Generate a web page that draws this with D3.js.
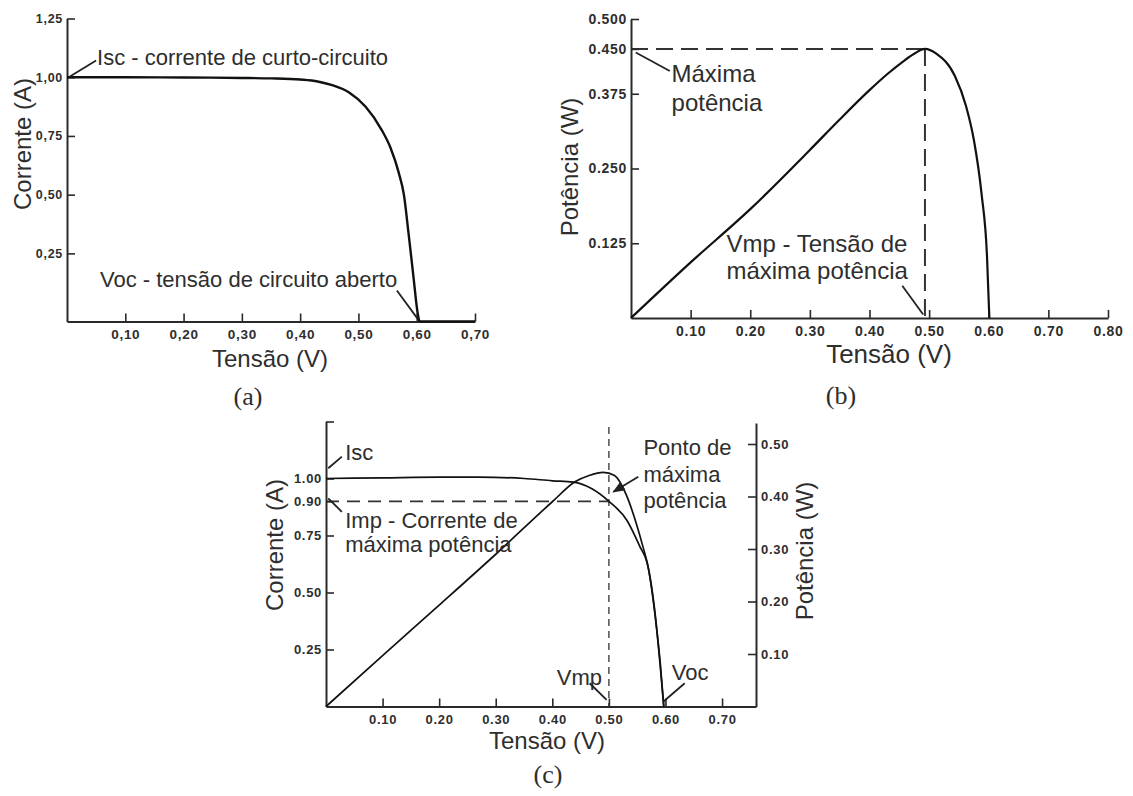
<!DOCTYPE html>
<html>
<head>
<meta charset="utf-8">
<script src="https://cdn.jsdelivr.net/npm/d3@7"></script>
<style>
  body { margin: 0; background: #fff; }
  svg text { fill: #2e2e2e; }
</style>
</head>
<body>
<svg id="chart" width="1133" height="796"></svg>
<script>
// ---- (a) curva I-V ----
const tensaoA   = [0, 0.10, 0.20, 0.30, 0.35, 0.40, 0.43, 0.455, 0.484, 0.512, 0.54, 0.555, 0.569, 0.578, 0.586, 0.594, 0.602, 0.605, 0.70];
const correnteA = [1.00, 1.00, 0.999, 0.997, 0.995, 0.99, 0.982, 0.966, 0.935, 0.875, 0.775, 0.70, 0.595, 0.50, 0.335, 0.16, -0.01, -0.04, -0.04];
const ticksAX  = [0.10, 0.20, 0.30, 0.40, 0.50, 0.60, 0.70];
const labelsAX = ["0,10", "0,20", "0,30", "0,40", "0,50", "0,60", "0,70"];
const ticksAY  = [0.25, 0.50, 0.75, 1.00, 1.25];
const labelsAY = ["0,25", "0,50", "0,75", "1,00", "1,25"];

// ---- (b) curva P-V ----
const tensaoB   = [0, 0.10, 0.20, 0.30, 0.35, 0.40, 0.43, 0.455, 0.475, 0.493, 0.512, 0.543, 0.562, 0.575, 0.588, 0.597, 0.601];
const potenciaB = [0, 0.093, 0.182, 0.281, 0.332, 0.381, 0.408, 0.428, 0.442, 0.450, 0.442, 0.405, 0.354, 0.298, 0.207, 0.105, 0];
const vmpB = 0.493, pmaxB = 0.450;
const ticksBX  = [0.10, 0.20, 0.30, 0.40, 0.50, 0.60, 0.70, 0.80];
const labelsBX = ["0.10", "0.20", "0.30", "0.40", "0.50", "0.60", "0.70", "0.80"];
const ticksBY  = [0.125, 0.250, 0.375, 0.450, 0.500];
const labelsBY = ["0.125", "0.250", "0.375", "0.450", "0.500"];

// ---- (c) I-V e P-V juntas ----
const tensaoCI   = [0, 0.10, 0.20, 0.27, 0.35, 0.40, 0.437, 0.47, 0.50, 0.532, 0.555, 0.568, 0.582, 0.591, 0.597];
const correnteC  = [1.00, 1.003, 1.006, 1.006, 1.00, 0.99, 0.984, 0.955, 0.90, 0.816, 0.70, 0.626, 0.40, 0.17, 0];
const tensaoCP   = [0, 0.10, 0.20, 0.30, 0.40, 0.44, 0.465, 0.49, 0.51, 0.53, 0.548, 0.56, 0.57, 0.582, 0.591, 0.597];
const potenciaC  = [0, 0.097, 0.193, 0.290, 0.390, 0.428, 0.440, 0.446, 0.440, 0.405, 0.350, 0.305, 0.262, 0.17, 0.08, 0];
const vmpC = 0.50, impC = 0.90;
const ticksCX  = [0.10, 0.20, 0.30, 0.40, 0.50, 0.60, 0.70];
const labelsCX = ["0.10", "0.20", "0.30", "0.40", "0.50", "0.60", "0.70"];
const ticksCY  = [0.25, 0.50, 0.75, 0.90, 1.00, 1.25];
const labelsCY = ["0.25", "0.50", "0.75", "0.90", "1.00", ""];
const ticksCP  = [0.10, 0.20, 0.30, 0.40, 0.50];
const labelsCP = ["0.10", "0.20", "0.30", "0.40", "0.50"];

const svg = d3.select("#chart");
svg.append("rect").attr("width", 1133).attr("height", 796).attr("fill", "#fff");

svg.append("defs").append("marker")
    .attr("id", "arrow").attr("viewBox", "0 0 10 10")
    .attr("refX", 9).attr("refY", 5)
    .attr("markerWidth", 7).attr("markerHeight", 7)
    .attr("orient", "auto-start-reverse")
  .append("path").attr("d", "M0,1 L10,5 L0,9 z").attr("fill", "#222");

const ink = "#2a2a2a";
const sans = "'Liberation Sans', Arial, sans-serif";

function styleAxis(g, fs) {
  g.select(".domain").attr("stroke", ink).attr("stroke-width", 2);
  g.selectAll(".tick line").attr("stroke", ink).attr("stroke-width", 1.6);
  g.selectAll(".tick text")
    .attr("font-family", sans).attr("font-weight", "bold")
    .attr("font-size", fs).attr("letter-spacing", 0.7).attr("fill", "#2a2a2a");
}

function bottomAxis(x, y0, ticks, labels, fs) {
  const g = svg.append("g").attr("transform", `translate(0,${y0})`)
    .call(d3.axisBottom(x).tickValues(ticks).tickFormat((d, i) => labels[i])
      .tickSizeInner(-8).tickSizeOuter(0).tickPadding(8));
  styleAxis(g, fs);
}
function leftAxis(y, x0, ticks, labels, fs) {
  const g = svg.append("g").attr("transform", `translate(${x0},0)`)
    .call(d3.axisLeft(y).tickValues(ticks).tickFormat((d, i) => labels[i])
      .tickSizeInner(-8).tickSizeOuter(0).tickPadding(4));
  styleAxis(g, fs);
}
function rightAxis(y, x0, ticks, labels, fs) {
  const g = svg.append("g").attr("transform", `translate(${x0},0)`)
    .call(d3.axisRight(y).tickValues(ticks).tickFormat((d, i) => labels[i])
      .tickSizeInner(-8).tickSizeOuter(0).tickPadding(5));
  styleAxis(g, fs);
}

function title(txt, x, y, fs, rot) {
  svg.append("text").attr("transform", `translate(${x},${y})` + (rot ? " rotate(-90)" : ""))
    .attr("text-anchor", "middle").attr("font-family", sans).attr("font-size", fs).text(txt);
}
function note(x, y, v, i, lines, fs, lh) {
  const t = svg.append("text").attr("font-family", sans).attr("font-size", fs);
  lines.forEach((s, k) => t.append("tspan").attr("x", x(v)).attr("y", y(i) + k * lh).text(s));
}
function leader(x, y, v1, i1, v2, i2, arrow) {
  const l = svg.append("line")
    .attr("x1", x(v1)).attr("y1", y(i1)).attr("x2", x(v2)).attr("y2", y(i2))
    .attr("stroke", "#222").attr("stroke-width", 1.8);
  if (arrow) l.attr("marker-end", "url(#arrow)");
}
function curve(x, y, xs, ys, w) {
  svg.append("path")
    .datum(xs.map((v, k) => [v, ys[k]]))
    .attr("fill", "none").attr("stroke", "#111").attr("stroke-width", w)
    .attr("stroke-linejoin", "round")
    .attr("d", d3.line().x(d => x(d[0])).y(d => y(d[1])).curve(d3.curveMonotoneX));
}
function dashed(x, y, v1, i1, v2, i2, dash, w) {
  svg.append("line")
    .attr("x1", x(v1)).attr("y1", y(i1)).attr("x2", x(v2)).attr("y2", y(i2))
    .attr("stroke", "#333").attr("stroke-width", w).attr("stroke-dasharray", dash);
}

// ================= (a) =================
const xA = d3.scaleLinear().domain([0, 0.70]).range([67, 475]);
const yA = d3.scaleLinear().domain([-0.04, 1.25]).range([321.5, 18.5]);
bottomAxis(xA, yA(-0.04), ticksAX, labelsAX, 13.5);
leftAxis(yA, xA(0), ticksAY, labelsAY, 12.5);
curve(xA, yA, tensaoA, correnteA, 2.4);
title("Corrente (A)", 31, 144, 24, true);
title("Tensão (V)", 270, 367, 24, false);
note(xA, yA, 0.0515, 1.05, ["Isc - corrente de curto-circuito"], 22, 0);
leader(xA, yA, 0.005, 1.003, 0.05, 1.071);
note(xA, yA, 0.0566, 0.105, ["Voc - tensão de circuito aberto"], 22, 0);
leader(xA, yA, 0.566, 0.092, 0.602, -0.03);
svg.append("text").attr("x", 248).attr("y", 405).attr("text-anchor", "middle")
  .attr("font-family", "'Liberation Serif', 'Times New Roman', serif").attr("font-size", 26).text("(a)");

// ================= (b) =================
const xB = d3.scaleLinear().domain([0, 0.80]).range([631, 1108]);
const yB = d3.scaleLinear().domain([0, 0.50]).range([318, 19]);
dashed(xB, yB, 0, pmaxB, vmpB, pmaxB, "17,8", 2);
dashed(xB, yB, vmpB, pmaxB, vmpB, 0, "17,8", 2);
bottomAxis(xB, yB(0), ticksBX, labelsBX, 14);
leftAxis(yB, xB(0), ticksBY, labelsBY, 14);
curve(xB, yB, tensaoB, potenciaB, 2.2);
title("Potência (W)", 578, 167, 24, true);
title("Tensão (V)", 889, 363, 26, false);
note(xB, yB, 0.068, 0.394, ["Máxima", "potência"], 24, 29);
leader(xB, yB, 0.008, 0.444, 0.065, 0.413);
note(xB, yB, 0.16, 0.110, ["Vmp - Tensão de", "máxima potência"], 24, 27);
leader(xB, yB, 0.455, 0.054, 0.49, 0.006);
svg.append("text").attr("x", 841).attr("y", 404).attr("text-anchor", "middle")
  .attr("font-family", "'Liberation Serif', 'Times New Roman', serif").attr("font-size", 26).text("(b)");

// ================= (c) =================
const xC  = d3.scaleLinear().domain([0, 0.76]).range([326, 756]);
const yCI = d3.scaleLinear().domain([0, 1.25]).range([706.5, 421.5]);
const yCP = d3.scaleLinear().domain([0, 0.54]).range([706.5, 423]);
dashed(xC, yCI, 0, impC, vmpC, impC, "13,8", 1.8);
dashed(xC, yCI, vmpC, 1.226, vmpC, 0, "7,5", 1.3);
bottomAxis(xC, yCI(0), ticksCX, labelsCX, 13);
leftAxis(yCI, xC(0), ticksCY, labelsCY, 13);
rightAxis(yCP, xC(0.76), ticksCP, labelsCP, 13);
curve(xC, yCI, tensaoCI, correnteC, 1.7);
curve(xC, yCP, tensaoCP, potenciaC, 1.7);
title("Corrente (A)", 283, 545, 24, true);
title("Potência (W)", 813, 551, 24, true);
title("Tensão (V)", 547, 749, 24, false);
note(xC, yCI, 0.034, 1.081, ["Isc"], 22, 0);
leader(xC, yCI, 0.004, 1.045, 0.028, 1.096);
note(xC, yCI, 0.034, 0.783, ["Imp - Corrente de", "máxima potência"], 22, 24);
leader(xC, yCI, 0.004, 0.913, 0.028, 0.854);
note(xC, yCI, 0.408, 0.094, ["Vmp"], 22, 0);
leader(xC, yCI, 0.466, 0.102, 0.496, 0.029);
note(xC, yCI, 0.611, 0.116, ["Voc"], 22, 0);
leader(xC, yCI, 0.634, 0.102, 0.596, 0.021);
note(xC, yCI, 0.561, 1.103, ["Ponto de", "máxima", "potência"], 22, 26.7);
leader(xC, yCI, 0.552, 1.008, 0.508, 0.942, true);
svg.append("text").attr("x", 548).attr("y", 783).attr("text-anchor", "middle")
  .attr("font-family", "'Liberation Serif', 'Times New Roman', serif").attr("font-size", 26).text("(c)");
</script>
</body>
</html>
